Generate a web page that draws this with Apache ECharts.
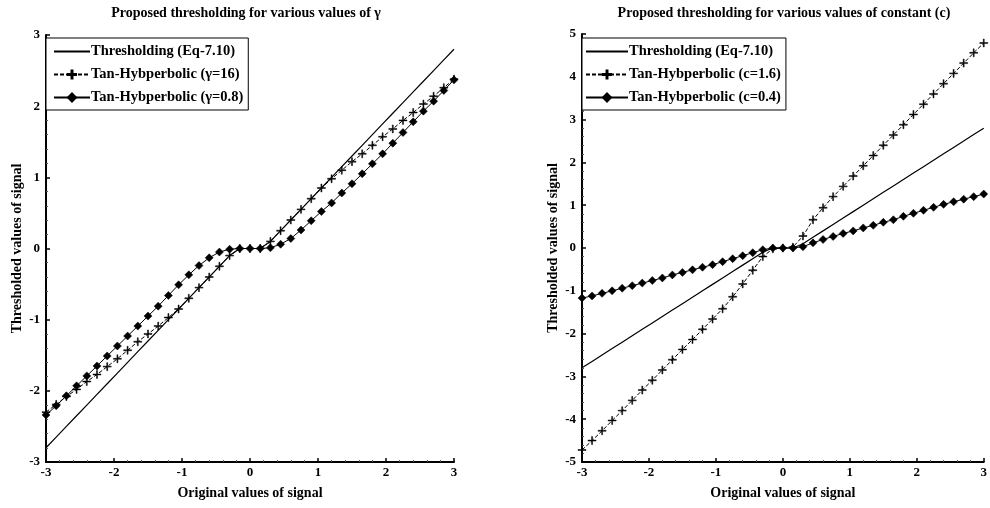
<!DOCTYPE html>
<html>
<head>
<meta charset="utf-8">
<script src="https://cdn.jsdelivr.net/npm/echarts@6/dist/echarts.min.js"></script>
<style>
  html, body { margin: 0; padding: 0; background: #fff; }
  #chart { width: 990px; height: 508px; }
</style>
</head>
<body>
<div id="chart"></div>
<script>
// Sample positions of the input signal
const xs = [-3, -2.85, -2.7, -2.55, -2.4, -2.25, -2.1, -1.95, -1.8, -1.65, -1.5, -1.35, -1.2, -1.05, -0.9, -0.75, -0.6, -0.45, -0.3, -0.15, 0,
            0.15, 0.3, 0.45, 0.6, 0.75, 0.9, 1.05, 1.2, 1.35, 1.5, 1.65, 1.8, 1.95, 2.1, 2.25, 2.4, 2.55, 2.7, 2.85, 3];

// Thresholding rule (Eq-7.10)
const thresholding = [-2.8, -2.65, -2.5, -2.35, -2.2, -2.05, -1.9, -1.75, -1.6, -1.45, -1.3, -1.15, -1.0, -0.85, -0.7, -0.55, -0.4, -0.25, -0.1, 0, 0,
                      0, 0.1, 0.25, 0.4, 0.55, 0.7, 0.85, 1.0, 1.15, 1.3, 1.45, 1.6, 1.75, 1.9, 2.05, 2.2, 2.35, 2.5, 2.65, 2.8];

// Tan-hyperbolic rule, left panel (gamma variants)
const tanhGamma16 = [-2.3, -2.19, -2.08, -1.98, -1.87, -1.77, -1.66, -1.55, -1.43, -1.31, -1.2, -1.09, -0.97, -0.85, -0.7, -0.55, -0.4, -0.25, -0.1, 0, 0,
                     0, 0.1, 0.25, 0.4, 0.55, 0.7, 0.85, 0.98, 1.1, 1.22, 1.33, 1.45, 1.57, 1.68, 1.8, 1.91, 2.03, 2.14, 2.26, 2.38];
const tanhGamma08 = [-2.34, -2.21, -2.07, -1.93, -1.79, -1.65, -1.51, -1.37, -1.23, -1.09, -0.95, -0.81, -0.66, -0.51, -0.37, -0.24, -0.13, -0.05, -0.01, 0, 0,
                     0, 0.01, 0.06, 0.14, 0.26, 0.39, 0.52, 0.64, 0.78, 0.91, 1.05, 1.19, 1.33, 1.48, 1.63, 1.78, 1.93, 2.07, 2.22, 2.37];

// Tan-hyperbolic rule, right panel (constant c variants)
const tanhC16 = [-4.72, -4.5, -4.27, -4.03, -3.8, -3.56, -3.32, -3.09, -2.85, -2.61, -2.37, -2.14, -1.9, -1.66, -1.42, -1.14, -0.84, -0.52, -0.2, -0.02, 0,
                 0.02, 0.28, 0.66, 0.94, 1.2, 1.44, 1.68, 1.92, 2.16, 2.4, 2.64, 2.88, 3.12, 3.36, 3.6, 3.84, 4.08, 4.32, 4.56, 4.79];
const tanhC04 = [-1.17, -1.12, -1.06, -1.0, -0.94, -0.88, -0.82, -0.76, -0.7, -0.63, -0.57, -0.51, -0.45, -0.39, -0.32, -0.25, -0.18, -0.11, -0.04, 0, 0,
                 0, 0.03, 0.12, 0.2, 0.27, 0.34, 0.4, 0.47, 0.53, 0.6, 0.66, 0.74, 0.81, 0.88, 0.95, 1.02, 1.08, 1.14, 1.2, 1.26];

// Tick values
const xTicks = [-3, -2, -1, 0, 1, 2, 3];
const yTicksLeft = [-3, -2, -1, 0, 1, 2, 3];
const yTicksRight = [-5, -4, -3, -2, -1, 0, 1, 2, 3, 4, 5];

const names = {
  thr: 'Thresholding (Eq-7.10)',
  g16: 'Tan-Hybperbolic (\u03b3=16)',
  g08: 'Tan-Hybperbolic (\u03b3=0.8)',
  c16: 'Tan-Hybperbolic (c=1.6)',
  c04: 'Tan-Hybperbolic (c=0.4)'
};

const FONT = '"Liberation Serif", "DejaVu Serif", serif';
const pairs = ys => xs.map((x, i) => [x, ys[i]]);

// Plus-shaped marker
const plusPath = 'path://M4.4,0H5.6V4.4H10V5.6H5.6V10H4.4V5.6H0V4.4H4.4Z';

function makeXAxis(gridIndex) {
  return {
    type: 'value', gridIndex, min: xTicks[0], max: xTicks[xTicks.length - 1], interval: 1,
    name: 'Original values of signal', nameLocation: 'middle', nameGap: 24,
    nameTextStyle: { fontFamily: FONT, fontWeight: 'bold', fontSize: 14, color: '#000' },
    axisLine: { onZero: false, lineStyle: { color: '#000', width: 2 } },
    axisTick: { inside: true, length: 4, lineStyle: { color: '#000', width: 1.5 } },
    minorTick: { show: true, splitNumber: 5, length: 2, lineStyle: { color: '#555' } },
    axisLabel: { fontFamily: FONT, fontWeight: 'bold', fontSize: 13, color: '#000', margin: 4 },
    splitLine: { show: false }
  };
}
function makeYAxis(gridIndex, ticks) {
  return {
    type: 'value', gridIndex, min: ticks[0], max: ticks[ticks.length - 1], interval: 1,
    name: 'Thresholded values of signal', nameLocation: 'middle', nameGap: 22,
    nameTextStyle: { fontFamily: FONT, fontWeight: 'bold', fontSize: 14, color: '#000' },
    axisLine: { onZero: false, lineStyle: { color: '#000', width: 2 } },
    axisTick: { inside: true, length: 4, lineStyle: { color: '#000', width: 1.5 } },
    minorTick: { show: true, splitNumber: 5, length: 2, lineStyle: { color: '#555' } },
    axisLabel: { fontFamily: FONT, fontWeight: 'bold', fontSize: 13, color: '#000', margin: 6 },
    splitLine: { show: false }
  };
}
// Legend entry for the plain line: hide the symbol, keep the line
const lineOnlyEntry = name => ({ name, itemStyle: { color: 'rgba(0,0,0,0)', borderColor: 'rgba(0,0,0,0)', borderWidth: 0 } });

function legendFor(entries, left, itemWidth, padLeft) {
  return {
    data: entries, left, top: 38, orient: 'vertical',
    backgroundColor: '#fff', borderColor: '#000', borderWidth: 1,
    padding: [6, 5, 5, padLeft], itemGap: 8, itemWidth, itemHeight: 10,
    textStyle: { fontFamily: FONT, fontWeight: 'bold', fontSize: 14.5, color: '#000', padding: [0, 0, 0, -4] },
    selectedMode: false
  };
}
function plainLine(name, ys, xi) {
  return {
    name, type: 'line', xAxisIndex: xi, yAxisIndex: xi, data: pairs(ys),
    symbol: 'none', color: '#000',
    lineStyle: { color: '#000', width: 1.2 }, animation: false
  };
}
function markedLine(name, ys, xi, symbol, size, dashed) {
  return {
    name, type: 'line', xAxisIndex: xi, yAxisIndex: xi, data: pairs(ys),
    symbol, symbolSize: size, showAllSymbol: true, color: '#000',
    itemStyle: { color: '#000', borderColor: '#000', borderWidth: 0.5 },
    lineStyle: { color: '#000', width: 1, type: dashed ? [4, 2] : 'solid' }, animation: false
  };
}

const titleStyle = { fontFamily: FONT, fontWeight: 'bold', fontSize: 14, fill: '#000', textAlign: 'center', textVerticalAlign: 'middle' };

const chart = echarts.init(document.getElementById('chart'), null, { renderer: 'canvas' });
chart.setOption({
  backgroundColor: '#fff',
  animation: false,
  graphic: [
    { type: 'text', x: 246, y: 13, style: Object.assign({ text: 'Proposed thresholding for various values of \u03b3' }, titleStyle) },
    { type: 'text', x: 784, y: 13, style: Object.assign({ text: 'Proposed thresholding for various values of constant (c)' }, titleStyle) }
  ],
  grid: [
    { left: 46, right: 536, top: 35, bottom: 46 },
    { left: 582, right: 0, top: 34, bottom: 46 }
  ],
  xAxis: [makeXAxis(0), makeXAxis(1)],
  yAxis: [makeYAxis(0, yTicksLeft), makeYAxis(1, yTicksRight)],
  legend: [
    legendFor([lineOnlyEntry(names.thr), names.g16, names.g08], 46, 36, 7),
    legendFor([lineOnlyEntry(names.thr), names.c16, names.c04], 582, 42, 3)
  ],
  series: [
    plainLine(names.thr, thresholding, 0),
    markedLine(names.g16, tanhGamma16, 0, plusPath, 8, true),
    markedLine(names.g08, tanhGamma08, 0, 'diamond', 8, false),
    plainLine(names.thr, thresholding, 1),
    markedLine(names.c16, tanhC16, 1, plusPath, 8, true),
    markedLine(names.c04, tanhC04, 1, 'diamond', 8, false)
  ]
});
</script>
</body>
</html>
